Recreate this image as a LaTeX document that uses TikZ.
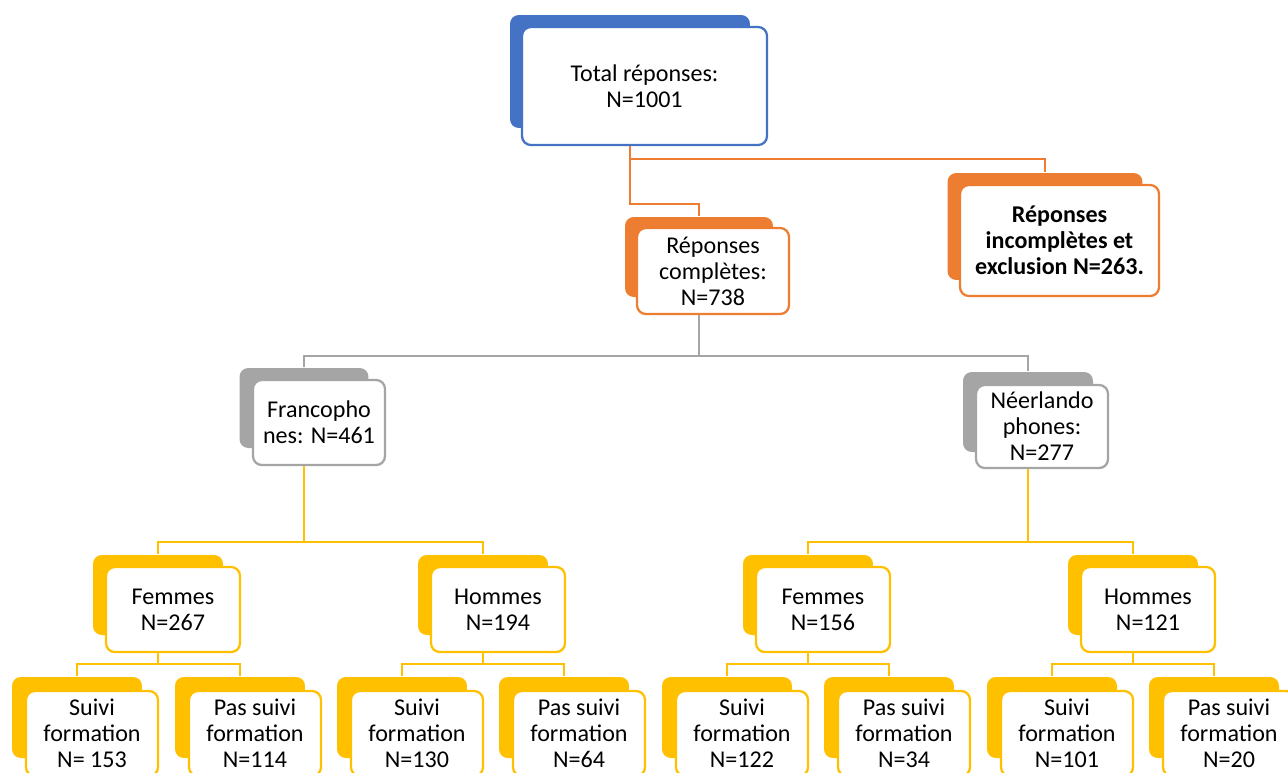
\documentclass[tikz,border=0pt]{standalone}
\usepackage{fontspec}
\setmainfont{Carlito}
\definecolor{bleu}{HTML}{4472C4}
\definecolor{orange}{HTML}{ED7D31}
\definecolor{gris}{HTML}{A5A5A5}
\definecolor{jaune}{HTML}{FFC000}
\begin{document}
\begin{tikzpicture}[x=0.02cm, y=-0.02cm,
    font=\fontsize{13.7pt}{14.8pt}\selectfont, line width=1.3pt,
    ombre/.style={fill=#1, rounded corners=5pt, inner sep=0pt},
    cadre/.style={draw=#1, fill=white, rounded corners=5pt, inner sep=0pt, align=center},
    lien/.style={draw=#1, line width=1.4pt}]
        \useasboundingbox (0,0) rectangle (1288,772);
        \clip (0,0) rectangle (1288,772);

        % niveau 0 et 1
        \node[ombre=bleu, minimum width=4.8cm, minimum height=2.26cm]
        (totalb) at (630,71.5) {};
        \node[cadre=bleu, minimum width=4.9cm, minimum height=2.36cm]
        (total) at (644.5,86) {Total réponses:\\N=1001};
        \node[ombre=orange, minimum width=2.96cm, minimum height=1.6cm]
        (complb) at (699,257) {};
        \node[cadre=orange, minimum width=3.04cm, minimum height=1.72cm]
        (compl) at (713,271) {Réponses\\complètes:\\N=738};
        \node[ombre=orange, minimum width=3.9cm, minimum height=2.14cm]
        (exclb) at (1045,226.5) {};
        \node[cadre=orange, minimum width=3.98cm, minimum height=2.22cm]
        (excl) at (1059.5,240.5) {\bfseries Réponses\\\bfseries incomplètes et\\\bfseries exclusion N=263.};
        \draw[lien=orange] (totalb |- total.south) -- ++(0,13) -| (exclb.north);
        \draw[lien=orange] (totalb |- total.south) -- ++(0,58) -| (complb.north);

        % langue
        \node[ombre=gris, minimum width=2.58cm, minimum height=1.6cm]
        (frb) at (304,408) {};
        \node[cadre=gris, minimum width=2.64cm, minimum height=1.7cm]
        (fr) at (319,422.5) {Francopho\\nes: N=461};
        \node[ombre=gris, minimum width=2.6cm, minimum height=1.6cm]
        (nlb) at (1028,412) {};
        \node[cadre=gris, minimum width=2.64cm, minimum height=1.66cm]
        (nl) at (1042,426.5) {Néerlando\\phones:\\N=277};
        \draw[lien=gris] (complb |- compl.south) -- ++(0,41) -| (frb.north);
        \draw[lien=gris] (complb |- compl.south) -- ++(0,41) -| (nlb.north);

        % sexe
        \node[ombre=jaune, minimum width=2.6cm, minimum height=1.6cm]
        (femfrb) at (158,595) {};
        \node[cadre=jaune, minimum width=2.68cm, minimum height=1.7cm]
        (femfr) at (173,609.5) {Femmes\\N=267};
        \node[ombre=jaune, minimum width=2.6cm, minimum height=1.6cm]
        (homfrb) at (483,595) {};
        \node[cadre=jaune, minimum width=2.68cm, minimum height=1.7cm]
        (homfr) at (498,609.5) {Hommes\\N=194};
        \node[ombre=jaune, minimum width=2.6cm, minimum height=1.6cm]
        (femnlb) at (808,595) {};
        \node[cadre=jaune, minimum width=2.68cm, minimum height=1.7cm]
        (femnl) at (823,609.5) {Femmes\\N=156};
        \node[ombre=jaune, minimum width=2.6cm, minimum height=1.6cm]
        (homnlb) at (1133,595) {};
        \node[cadre=jaune, minimum width=2.68cm, minimum height=1.7cm]
        (homnl) at (1148,609.5) {Hommes\\N=121};
        \draw[lien=jaune] (frb |- fr.south) -- ++(0,76) -| (femfrb.north);
        \draw[lien=jaune] (frb |- fr.south) -- ++(0,76) -| (homfrb.north);
        \draw[lien=jaune] (nlb |- nl.south) -- ++(0,73) -| (femnlb.north);
        \draw[lien=jaune] (nlb |- nl.south) -- ++(0,73) -| (homnlb.north);

        % formation
        \node[ombre=jaune, minimum width=2.6cm, minimum height=1.62cm]
        (sfemfrb) at (77,717.5) {};
        \node[cadre=jaune, minimum width=2.64cm, minimum height=1.7cm]
        (sfemfr) at (92,733.5) {Suivi\\formation\\N= 153};
        \node[ombre=jaune, minimum width=2.6cm, minimum height=1.62cm]
        (pfemfrb) at (240,717.5) {};
        \node[cadre=jaune, minimum width=2.64cm, minimum height=1.7cm]
        (pfemfr) at (255,733.5) {Pas suivi\\formation\\N=114};
        \node[ombre=jaune, minimum width=2.6cm, minimum height=1.62cm]
        (shomfrb) at (402,717.5) {};
        \node[cadre=jaune, minimum width=2.64cm, minimum height=1.7cm]
        (shomfr) at (417,733.5) {Suivi\\formation\\N=130};
        \node[ombre=jaune, minimum width=2.6cm, minimum height=1.62cm]
        (phomfrb) at (564,717.5) {};
        \node[cadre=jaune, minimum width=2.64cm, minimum height=1.7cm]
        (phomfr) at (579,733.5) {Pas suivi\\formation\\N=64};
        \node[ombre=jaune, minimum width=2.6cm, minimum height=1.62cm]
        (sfemnlb) at (727,717.5) {};
        \node[cadre=jaune, minimum width=2.64cm, minimum height=1.7cm]
        (sfemnl) at (742,733.5) {Suivi\\formation\\N=122};
        \node[ombre=jaune, minimum width=2.6cm, minimum height=1.62cm]
        (pfemnlb) at (889,717.5) {};
        \node[cadre=jaune, minimum width=2.64cm, minimum height=1.7cm]
        (pfemnl) at (904,733.5) {Pas suivi\\formation\\N=34};
        \node[ombre=jaune, minimum width=2.6cm, minimum height=1.62cm]
        (shomnlb) at (1052,717.5) {};
        \node[cadre=jaune, minimum width=2.64cm, minimum height=1.7cm]
        (shomnl) at (1067,733.5) {Suivi\\formation\\N=101};
        \node[ombre=jaune, minimum width=2.6cm, minimum height=1.62cm]
        (phomnlb) at (1214,717.5) {};
        \node[cadre=jaune, minimum width=2.64cm, minimum height=1.7cm]
        (phomnl) at (1229,733.5) {Pas suivi\\formation\\N=20};
        \draw[lien=jaune] (femfrb |- femfr.south) -- ++(0,11) -| (sfemfrb.north);
        \draw[lien=jaune] (femfrb |- femfr.south) -- ++(0,11) -| (pfemfrb.north);
        \draw[lien=jaune] (homfrb |- homfr.south) -- ++(0,11) -| (shomfrb.north);
        \draw[lien=jaune] (homfrb |- homfr.south) -- ++(0,11) -| (phomfrb.north);
        \draw[lien=jaune] (femnlb |- femnl.south) -- ++(0,11) -| (sfemnlb.north);
        \draw[lien=jaune] (femnlb |- femnl.south) -- ++(0,11) -| (pfemnlb.north);
        \draw[lien=jaune] (homnlb |- homnl.south) -- ++(0,11) -| (shomnlb.north);
        \draw[lien=jaune] (homnlb |- homnl.south) -- ++(0,11) -| (phomnlb.north);
    \end{tikzpicture}
\end{document}
